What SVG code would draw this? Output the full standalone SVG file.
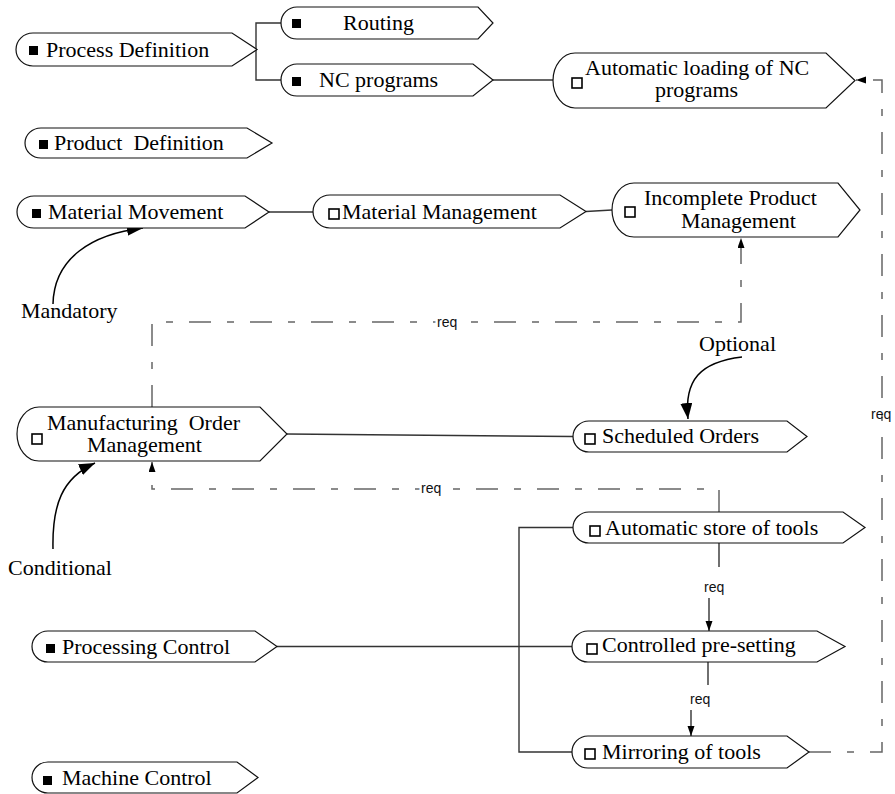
<svg xmlns="http://www.w3.org/2000/svg" width="895" height="794" viewBox="0 0 895 794">
  <style>
    .node path { fill: #fff; stroke: #111; stroke-width: 1.2; }
    .lbl { font-family: "Liberation Serif", "Times New Roman", serif; font-size: 22px; fill: #000; }
    .req { font-family: "Liberation Sans", Arial, sans-serif; font-size: 14px; fill: #111; }
    .halo { stroke: #fff; stroke-width: 5; paint-order: stroke; }
    .sq-f { fill: #000; }
    .sq-o { fill: #fff; stroke: #000; stroke-width: 1.6; }
    .solid { fill: none; stroke: #333; stroke-width: 1.4; }
    .dash { fill: none; stroke: #666; stroke-width: 1.5; stroke-dasharray: 22 16 7 16; }
    .curve { fill: none; stroke: #000; stroke-width: 1.5; }
  </style>
  <defs>
    <marker id="arrowSmall" markerUnits="userSpaceOnUse" markerWidth="10" markerHeight="8" refX="10" refY="3.5" orient="auto">
      <path d="M0,0 L10,3.5 L0,7 Z" fill="#000"/>
    </marker>
    <marker id="arrowBig" markerUnits="userSpaceOnUse" markerWidth="17" markerHeight="13" refX="16" refY="6" orient="auto">
      <path d="M0,0 L16,6 L0,12 Z" fill="#000"/>
    </marker>
  </defs>

  <rect width="895" height="794" fill="#fff"/>

  <!-- connectors -->
  <g id="connectors">
    <path class="solid" d="M281,23 H256 V80 H281"/>
    <path class="solid" d="M493,80 H553"/>
    <path class="solid" d="M269,212 H313"/>
    <path class="solid" d="M586,211.5 L612,210"/>
    <path class="solid" d="M287,434 L573,436.5"/>
    <path class="solid" d="M277,646.5 H572"/>
    <path class="solid" d="M573,527.5 H519 V752 H572"/>
    <path class="solid" d="M719,543 V567"/>
    <path class="solid" d="M708,662 V685"/>
    <path class="solid" d="M709,598 V631" marker-end="url(#arrowSmall)"/>
    <path class="solid" d="M691,710 V736" marker-end="url(#arrowSmall)"/>

    <path class="dash" d="M152,407 V322 H741 V238" marker-end="url(#arrowSmall)"/>
    <path class="dash" d="M719,512 V489 H152 V462" marker-end="url(#arrowSmall)"/>
    <path class="dash" d="M809,752 H882 V80 H856" marker-end="url(#arrowSmall)"/>

    <text class="req halo" x="437" y="327">req</text>
    <text class="req halo" x="421" y="493">req</text>
    <text class="req" x="871" y="419">req</text>
    <text class="req" x="704" y="592">req</text>
    <text class="req" x="690" y="704">req</text>

    <!-- legend arrows -->
    <path class="curve" d="M53,304 C54,258 92,234 143,228" marker-end="url(#arrowBig)"/>
    <path class="curve" d="M53,549 C52,505 62,478 95,463" marker-end="url(#arrowBig)"/>
    <path class="curve" d="M742,357 C700,362 684,380 688,419" marker-end="url(#arrowBig)"/>
  </g>

  <text class="lbl" x="21" y="318">Mandatory</text>
  <text class="lbl" x="699" y="351">Optional</text>
  <text class="lbl" x="8" y="575">Conditional</text>

  <!-- nodes -->
  <g id="routing" class="node">
    <path d="M297,7 H478 L493,23 L478,39 H297 A16,16 0 0 1 297,7 Z"/>
    <rect class="sq-f" x="292" y="19" width="9" height="9"/>
    <text class="lbl" x="343" y="30">Routing</text>
  </g>
  <g id="process-definition" class="node">
    <path d="M33,33 H232 L257,49.5 L232,66 H33 A17,16.5 0 0 1 33,33 Z"/>
    <rect class="sq-f" x="29" y="46" width="9" height="9"/>
    <text class="lbl" x="46" y="57">Process Definition</text>
  </g>
  <g id="nc-programs" class="node">
    <path d="M297,64 H473 L493,80 L473,96 H297 A16,16 0 0 1 297,64 Z"/>
    <rect class="sq-f" x="292" y="77" width="9" height="9"/>
    <text class="lbl" x="319" y="87">NC programs</text>
  </g>
  <g id="automatic-loading" class="node">
    <path d="M575,53 H826 L855,80.5 L826,108 H575 A22,27.5 0 0 1 575,53 Z"/>
    <rect class="sq-o" x="572" y="78" width="10" height="10"/>
    <text class="lbl" x="585" y="75">Automatic loading of NC</text>
    <text class="lbl" x="655" y="97">programs</text>
  </g>
  <g id="product-definition" class="node">
    <path d="M41,128 H247 L272,143 L247,158 H41 A16,15 0 0 1 41,128 Z"/>
    <rect class="sq-f" x="39" y="140" width="9" height="9"/>
    <text class="lbl" x="54" y="150" xml:space="preserve">Product  Definition</text>
  </g>
  <g id="material-movement" class="node">
    <path d="M34,196 H245 L269,212 L245,228 H34 A17,16 0 0 1 34,196 Z"/>
    <rect class="sq-f" x="32" y="209" width="9" height="9"/>
    <text class="lbl" x="48" y="219">Material Movement</text>
  </g>
  <g id="material-management" class="node">
    <path d="M330,195 H560 L586,211.5 L560,228 H330 A17,16.5 0 0 1 330,195 Z"/>
    <rect class="sq-o" x="329" y="209" width="10" height="10"/>
    <text class="lbl" x="342" y="219">Material Management</text>
  </g>
  <g id="incomplete-product-management" class="node">
    <path d="M634,183 H838 L860,210 L838,237 H634 A22,27 0 0 1 634,183 Z"/>
    <rect class="sq-o" x="625" y="207" width="10" height="10"/>
    <text class="lbl" x="644" y="205">Incomplete Product</text>
    <text class="lbl" x="681" y="228">Management</text>
  </g>
  <g id="manufacturing-order-management" class="node">
    <path d="M39,407 H260 L287,434 L260,461 H39 A22,27 0 0 1 39,407 Z"/>
    <rect class="sq-o" x="32" y="434" width="10" height="10"/>
    <text class="lbl" x="47" y="430" xml:space="preserve">Manufacturing  Order</text>
    <text class="lbl" x="87" y="452">Management</text>
  </g>
  <g id="scheduled-orders" class="node">
    <path d="M589,421 H787 L807,436.5 L787,452 H589 A16,15.5 0 0 1 589,421 Z"/>
    <rect class="sq-o" x="585" y="434" width="10" height="10"/>
    <text class="lbl" x="602" y="443">Scheduled Orders</text>
  </g>
  <g id="automatic-store-of-tools" class="node">
    <path d="M589,512 H843 L865,527.5 L843,543 H589 A16,15.5 0 0 1 589,512 Z"/>
    <rect class="sq-o" x="590" y="526" width="10" height="10"/>
    <text class="lbl" x="605" y="535">Automatic store of tools</text>
  </g>
  <g id="controlled-pre-setting" class="node">
    <path d="M588,631 H817 L845,646.5 L817,662 H588 A16,15.5 0 0 1 588,631 Z"/>
    <rect class="sq-o" x="587" y="644" width="10" height="10"/>
    <text class="lbl" x="602" y="652">Controlled pre-setting</text>
  </g>
  <g id="mirroring-of-tools" class="node">
    <path d="M588,736 H787 L809,752 L787,768 H588 A16,16 0 0 1 588,736 Z"/>
    <rect class="sq-o" x="585" y="749" width="10" height="10"/>
    <text class="lbl" x="602" y="759">Mirroring of tools</text>
  </g>
  <g id="processing-control" class="node">
    <path d="M48,631 H255 L277,646.5 L255,662 H48 A16,15.5 0 0 1 48,631 Z"/>
    <rect class="sq-f" x="46" y="644" width="9" height="9"/>
    <text class="lbl" x="62" y="654">Processing Control</text>
  </g>
  <g id="machine-control" class="node">
    <path d="M48,762 H237 L258,777.5 L237,793 H48 A16,15.5 0 0 1 48,762 Z"/>
    <rect class="sq-f" x="43" y="776" width="9" height="9"/>
    <text class="lbl" x="62" y="785">Machine Control</text>
  </g>
</svg>
